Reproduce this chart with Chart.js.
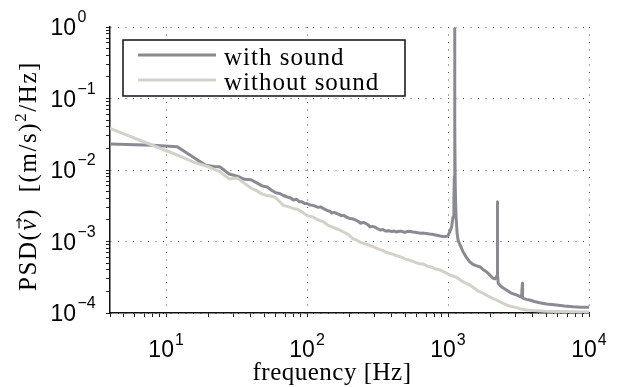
<!DOCTYPE html>
<html>
<head>
<meta charset="utf-8">
<script src="https://cdn.jsdelivr.net/npm/chart.js@4"></script>
<style>
  html, body { margin: 0; padding: 0; background: #ffffff; }
  canvas { display: block; }
</style>
</head>
<body>
<canvas id="c" width="619" height="387"></canvas>
<script>
// ---------- data ----------
const seriesNames = ['with sound', 'without sound'];

const withSoundFreq = [4, 8, 12, 16, 19, 22, 24, 28, 32, 36, 40, 44, 48, 52, 56, 60, 64, 68, 72, 76, 80, 84, 88, 92, 96, 100,
  105, 110, 115, 120, 125, 130, 135, 140, 145, 150, 155, 160, 168, 175, 182, 190, 200, 210, 220, 230, 240, 250, 260, 270,
  280, 290, 300, 315, 330, 345, 360, 380, 400, 415, 430, 450, 470, 485, 500, 520, 540, 565, 600, 625, 650, 675,
  700, 740, 770, 800, 850, 900, 950, 1000, 1028, 1060, 1085, 1100, 1108, 1113, 1116, 1119, 1125, 1140, 1160, 1178, 1220, 1277,
  1350, 1425, 1500, 1580, 1678, 1760, 1872, 1950, 2085, 2150, 2204, 2232, 2240, 2248, 2270, 2327, 2450, 2595, 2800, 3055,
  3250, 3318, 3370, 3380, 3443, 3600, 3796, 4100, 4470, 5000, 5870, 6700, 7710, 8800, 10000];
const withSoundPsd = [0.0231, 0.0222, 0.0212, 0.0146, 0.0117, 0.0112, 0.0111, 0.0088, 0.0082, 0.0074, 0.0073, 0.0066, 0.0060,
  0.0058, 0.0052, 0.0048, 0.0047, 0.0044, 0.0042, 0.0041, 0.0038, 0.0039, 0.0036, 0.0036, 0.0034, 0.0034,
  0.00325, 0.0032, 0.0031, 0.0030, 0.00305, 0.0029, 0.0028, 0.0027, 0.00265, 0.0025, 0.00255, 0.0025, 0.0024, 0.0023,
  0.00232, 0.0022, 0.0021, 0.00208, 0.0020, 0.00192, 0.0018, 0.00185, 0.0018, 0.00172,
  0.0016, 0.00163, 0.0016, 0.00152, 0.00145, 0.00147, 0.0014, 0.00141, 0.00138, 0.00140, 0.00136, 0.00139, 0.00139,
  0.00135, 0.00135, 0.00139, 0.00138, 0.00136, 0.00134, 0.00131, 0.0013, 0.00131,
  0.00129, 0.00127, 0.00126, 0.00124, 0.00121, 0.00118, 0.00117, 0.0012, 0.00136, 0.0016, 0.0022, 0.0035, 0.008, 0.04, 0.95, 0.04,
  0.006, 0.0022, 0.0013, 0.00105, 0.00088, 0.00072,
  0.0006, 0.00052, 0.00048, 0.00046, 0.000444, 0.00041, 0.000378, 0.00035, 0.000306, 0.0003, 0.00032, 0.00034, 0.0036,
  0.00034, 0.00026, 0.000246, 0.000225, 0.00021, 0.00019, 0.000179,
  0.00017, 0.000166, 0.00026, 0.000162, 0.000159, 0.000155, 0.000152, 0.000145, 0.000139, 0.000134, 0.000129, 0.000125,
  0.000122, 0.00012, 0.00012];

const withoutSoundFreq = [4, 8, 12, 16, 20, 24, 28, 32, 36, 40, 44, 48, 52, 56, 60, 64, 68, 72, 76, 80, 86, 92, 100,
  110, 120, 130, 140, 150, 160, 170, 180, 190, 200, 210, 224, 237, 250, 270, 294, 310, 330, 345, 360, 386, 410, 430, 450,
  470, 507, 530, 560, 600, 630, 665, 720, 760, 800,
  873, 950, 1030, 1148, 1250, 1350, 1425, 1550, 1650, 1771, 1900, 2050, 2204, 2400, 2600, 2740, 3000, 3226, 3600,
  4008, 4800, 5870, 7500, 10000];
const withoutSoundPsd = [0.0383, 0.0222, 0.0162, 0.0127, 0.0111, 0.0095, 0.0075, 0.0077, 0.0065, 0.0056, 0.0051, 0.0046,
  0.0044, 0.0043, 0.0041, 0.0036, 0.0032, 0.0031, 0.0030, 0.0029, 0.0028, 0.0026, 0.0023,
  0.0022, 0.0020, 0.0019, 0.0017, 0.0016, 0.00152, 0.00145, 0.00137, 0.0013, 0.00121, 0.0011, 0.00105, 0.00098, 0.00095,
  0.0009, 0.00085, 0.00081, 0.00077, 0.00075, 0.00071, 0.00068, 0.00066, 0.00063, 0.00062,
  0.0006, 0.00056, 0.00055, 0.00053, 0.0005, 0.00049, 0.000485, 0.00045, 0.00044, 0.00042,
  0.0004, 0.00037, 0.00034, 0.000316, 0.00028, 0.00026, 0.000246, 0.00022, 0.0002, 0.000189, 0.000175, 0.000162,
  0.000152, 0.00014, 0.00013, 0.000125, 0.00012, 0.000115, 0.00011,
  0.000108, 0.000106, 0.000105, 0.000104, 0.000103];

const xTickValues = [4, 5, 6, 7, 8, 9, 10, 20, 30, 40, 50, 60, 70, 80, 90, 100, 200, 300, 400, 500, 600, 700, 800, 900,
  1000, 2000, 3000, 4000, 5000, 6000, 7000, 8000, 9000, 10000];
const yTickValues = [1e-4, 2e-4, 3e-4, 4e-4, 5e-4, 6e-4, 7e-4, 8e-4, 9e-4, 1e-3, 2e-3, 3e-3, 4e-3, 5e-3, 6e-3, 7e-3, 8e-3,
  9e-3, 1e-2, 2e-2, 3e-2, 4e-2, 5e-2, 6e-2, 7e-2, 8e-2, 9e-2, 0.1, 0.2, 0.3, 0.4, 0.5, 0.6, 0.7, 0.8, 0.9, 1];
const xLabelValues = [10, 100, 1000, 10000];
const xLabelExps = ['1', '2', '3', '4'];
const yLabelValues = [1, 0.1, 0.01, 0.001, 0.0001];
const yLabelExps = ['0', '\u22121', '\u22122', '\u22123', '\u22124'];
const xTitle = 'frequency [Hz]';

// ---------- styles ----------
const darkColor = '#8a8a92';
const lightColor = '#d4d1c9';

function isDecade(v) {
  if (!v) return false;
  const l = Math.log10(v);
  return Math.abs(l - Math.round(l)) < 1e-9;
}

const gridOpts = {
  color: c => (c.tick && isDecade(c.tick.value)) ? '#555' : 'rgba(0,0,0,0)',
  lineWidth: 1,
  drawTicks: true,
  tickLength: 4,
  tickColor: '#222',
  tickWidth: 1
};
const borderOpts = { display: true, color: '#111', width: 1.5, dash: [1, 6.5] };

const textPlugin = {
  id: 'texts',
  afterDraw(chart) {
    const ctx = chart.ctx;
    const xs = chart.scales.x, ys = chart.scales.y;
    const baseFont = '23px "Liberation Sans", Arial, sans-serif';
    const expFont = '16px "Liberation Sans", Arial, sans-serif';
    ctx.save();
    ctx.fillStyle = '#000';
    ctx.textBaseline = 'alphabetic';
    ctx.textAlign = 'left';
    // x tick labels
    xLabelValues.forEach((v, i) => {
      const px = xs.getPixelForValue(v);
      ctx.font = baseFont;
      const bw = ctx.measureText('10').width;
      ctx.font = expFont;
      const ew = ctx.measureText(xLabelExps[i]).width;
      const left = px - (bw + 1 + ew) / 2;
      ctx.font = baseFont;
      ctx.fillText('10', left, 357);
      ctx.font = expFont;
      ctx.fillText(xLabelExps[i], left + bw + 1, 345);
    });
    // y tick labels
    yLabelValues.forEach((v, i) => {
      const py = ys.getPixelForValue(v);
      ctx.font = baseFont;
      ctx.textAlign = 'right';
      ctx.fillText('10', 76, py + 8.3);
      ctx.font = expFont;
      ctx.textAlign = 'left';
      ctx.fillText(yLabelExps[i], 77.5, py - 5);
    });
    // x title
    ctx.font = '25px "Liberation Serif", "Times New Roman", serif';
    ctx.letterSpacing = '0.5px';
    ctx.textAlign = 'center';
    ctx.fillText(xTitle, 332, 380);
    ctx.letterSpacing = '0px';
    ctx.textAlign = 'left';

    // y title (rotated): PSD(v⃗) [(m/s)²/Hz]
    const serif = '"Liberation Serif", "Times New Roman", serif';
    const pieces = [
      { t: 'PSD(', f: '25px ' + serif, dy: 0 },
      { t: 'v', f: 'italic 25px ' + serif, dy: 0, arrow: true },
      { t: ')  [(m/s)', f: '25px ' + serif, dy: 0 },
      { t: '2', f: '17px ' + serif, dy: -10 },
      { t: '/Hz]', f: '25px ' + serif, dy: 0 }
    ];
    let natural = 0, nChars = 0;
    pieces.forEach(p => { ctx.font = p.f; natural += ctx.measureText(p.t).width; nChars += p.t.length; });
    const target = 230;
    const sp = Math.max(0, (target - natural) / nChars);
    ctx.translate(36, 291);
    ctx.rotate(-Math.PI / 2);
    let cx = 0;
    pieces.forEach(p => {
      ctx.font = p.f;
      ctx.letterSpacing = sp.toFixed(2) + 'px';
      const w = ctx.measureText(p.t).width;
      ctx.fillText(p.t, cx, p.dy);
      if (p.arrow) {
        ctx.strokeStyle = '#000';
        ctx.lineWidth = 1.1;
        const ax0 = cx + 2, ax1 = cx + w - sp + 1, ay = -17;
        ctx.beginPath();
        ctx.moveTo(ax0, ay); ctx.lineTo(ax1, ay);
        ctx.moveTo(ax1 - 3, ay - 2.5); ctx.lineTo(ax1, ay); ctx.lineTo(ax1 - 3, ay + 2.5);
        ctx.stroke();
      }
      cx += w;
    });
    ctx.restore();

    // legend box
    ctx.save();
    const ds = chart.data.datasets;
    ctx.fillStyle = '#fff';
    ctx.fillRect(123, 40, 282, 56);
    ctx.strokeStyle = '#111';
    ctx.lineWidth = 1.5;
    ctx.strokeRect(123, 40, 282, 56);
    [55, 80].forEach((ly, i) => {
      ctx.strokeStyle = ds[i].borderColor;
      ctx.lineWidth = 3;
      ctx.beginPath();
      ctx.moveTo(138, ly); ctx.lineTo(216, ly);
      ctx.stroke();
      ctx.fillStyle = '#000';
      ctx.font = '25px "Liberation Serif", "Times New Roman", serif';
      ctx.letterSpacing = '1px';
      ctx.textAlign = 'left';
      ctx.textBaseline = 'alphabetic';
      ctx.fillText(ds[i].label, 224, ly + 10);
    });
    ctx.restore();
  }
};

new Chart(document.getElementById('c').getContext('2d'), {
  type: 'line',
  data: {
    datasets: [
      {
        label: seriesNames[0],
        data: withSoundFreq.map((f, i) => ({ x: f, y: withSoundPsd[i] })),
        borderColor: darkColor, borderWidth: 3, pointRadius: 0, tension: 0,
        borderJoinStyle: 'round', fill: false, order: 1
      },
      {
        label: seriesNames[1],
        data: withoutSoundFreq.map((f, i) => ({ x: f, y: withoutSoundPsd[i] })),
        borderColor: lightColor, borderWidth: 3, pointRadius: 0, tension: 0,
        borderJoinStyle: 'round', fill: false, order: 0
      }
    ]
  },
  options: {
    responsive: false,
    animation: false,
    devicePixelRatio: 1,
    layout: { padding: { left: 106, right: 30, top: 27, bottom: 70 } },
    plugins: { legend: { display: false }, tooltip: { enabled: false } },
    scales: {
      x: {
        type: 'logarithmic', min: 4, max: 10000,
        afterBuildTicks: ax => { ax.ticks = xTickValues.map(v => ({ value: v })); },
        ticks: { display: false },
        grid: gridOpts, border: borderOpts
      },
      y: {
        type: 'logarithmic', min: 1e-4, max: 1,
        afterBuildTicks: ax => { ax.ticks = yTickValues.map(v => ({ value: v })); },
        ticks: { display: false },
        grid: gridOpts, border: borderOpts
      }
    }
  },
  plugins: [textPlugin]
});
</script>
</body>
</html>
